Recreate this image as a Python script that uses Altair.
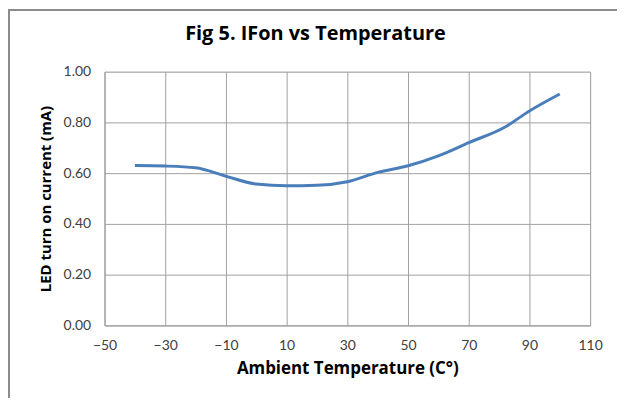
import altair as alt
import pandas as pd

temps = [-40, -30, -20, -10, 0, 10, 20, 30, 40, 50, 60, 70, 82, 90, 100]
ifon = [0.630, 0.628, 0.621, 0.588, 0.557, 0.550, 0.552, 0.566, 0.603, 0.629, 0.668, 0.720, 0.782, 0.845, 0.912]
x_ticks = [-50, -30, -10, 10, 30, 50, 70, 90, 110]
y_ticks = [0.0, 0.2, 0.4, 0.6, 0.8, 1.0]
title_text = ["Fig 5. IFon vs Temperature"]

df = pd.DataFrame({"T": temps, "I": ifon})

LFONT = "Lato"
TFONT = "Open Sans"
GRID = "#a0a0a0"

line = alt.Chart(df).mark_line(color="#4a7ebb", strokeWidth=3, interpolate="monotone").encode(
    x=alt.X("T:Q",
            scale=alt.Scale(domain=[-50, 110], nice=False, zero=False),
            axis=alt.Axis(values=x_ticks, title="Ambient Temperature (C°)", format="d",
                          titleFont=TFONT, titleFontSize=17, titleFontWeight="bold", titleColor="#000000",
                          titlePadding=8, labelFont=LFONT, labelFontSize=14, labelColor="#404040",
                          labelPadding=13, ticks=False, domainColor=GRID, gridColor=GRID,
                          labelFlush=False)),
    y=alt.Y("I:Q",
            scale=alt.Scale(domain=[0, 1], nice=False),
            axis=alt.Axis(values=y_ticks, title="LED turn on current (mA)", format=".2f",
                          titleFont=TFONT, titleFontSize=15, titleFontWeight="bold", titleColor="#000000",
                          titlePadding=10, labelFont=LFONT, labelFontSize=14, labelColor="#404040",
                          labelPadding=14, ticks=False, domainColor=GRID, gridColor=GRID)),
)

title = alt.Chart(pd.DataFrame({"t": title_text})).mark_text(
    font=TFONT, fontSize=20, fontWeight="bold", color="#000000", align="center", baseline="alphabetic"
).encode(text="t:N", x=alt.value(212), y=alt.value(-32))

frame_top = alt.Chart(df).mark_rule(color="#8c8c8c", strokeWidth=2).encode(
    x=alt.value(-97), x2=alt.value(530), y=alt.value(-62)
)
frame_left = alt.Chart(df).mark_rule(color="#8c8c8c", strokeWidth=2).encode(
    x=alt.value(-96), y=alt.value(-63), y2=alt.value(340)
)

chart = alt.layer(line, title, frame_top, frame_left).properties(
    width=488, height=255,
    autosize=alt.AutoSizeParams(type="none"),
    padding={"left": 97, "top": 63, "right": 27, "bottom": 72},
).configure_view(stroke=GRID, strokeWidth=1).configure(background="white")

chart.save("out.html", embed_options={"renderer": "svg", "actions": False})
